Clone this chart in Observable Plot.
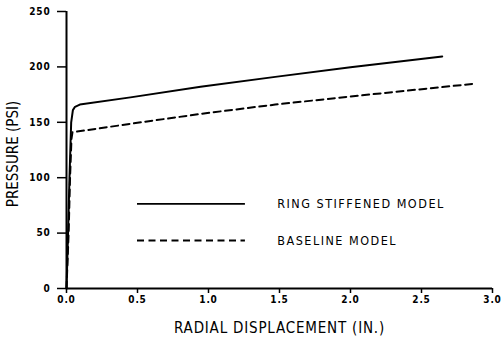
<!DOCTYPE html>
<html>
<head>
<meta charset="utf-8">
<script src="https://cdn.jsdelivr.net/npm/d3@7"></script>
<script src="https://cdn.jsdelivr.net/npm/@observablehq/plot@0.6"></script>
<style>
  body { margin: 0; background: white; }
</style>
</head>
<body>
<div id="chart"></div>
<script>
// Ring stiffened model (solid)
const ringDisp = [0, 0.012, 0.021, 0.033, 0.045, 0.06, 0.094, 0.45, 0.944, 1.47, 2.0, 2.646];
const ringPress = [0, 55, 100, 150, 161, 164, 166, 172.5, 182, 191, 199.7, 209.4];
// Baseline model (dashed)
const baseDisp = [0, 0.015, 0.025, 0.035, 0.042, 0.146, 0.45, 0.944, 1.47, 2.0, 2.864];
const basePress = [0, 50, 100, 135, 141, 143, 148.6, 157.6, 166, 173.3, 184.7];

const xTicks = [0, 0.5, 1.0, 1.5, 2.0, 2.5, 3.0];
const yTicks = [0, 50, 100, 150, 200, 250];

const xTitle = "RADIAL DISPLACEMENT (IN.)";
const yTitle = "PRESSURE (PSI)";
const seriesNames = ["RING STIFFENED MODEL", "BASELINE MODEL"];

const ring = ringDisp.map((d, i) => ({x: d, y: ringPress[i]}));
const base = baseDisp.map((d, i) => ({x: d, y: basePress[i]}));

// legend placement (in data units)
const legX1 = 0.5, legX2 = 1.26, legTextX = 1.484;
const legY = [76.4, 43.3];

const font = "'DejaVu Sans Condensed', 'DejaVu Sans', sans-serif";

const chart = Plot.plot({
  width: 503,
  height: 341,
  marginLeft: 66,
  marginRight: 11,
  marginTop: 11,
  marginBottom: 53,
  x: {domain: [0, 3]},
  y: {domain: [0, 250]},
  style: {fontFamily: font, background: "white", color: "black"},
  marks: [
    Plot.axisX({ticks: xTicks, tickFormat: d => d.toFixed(1), tickSize: 5, tickPadding: 2, fontSize: 10, fontWeight: "bold", label: null, strokeWidth: 1.5}),
    Plot.axisY({ticks: yTicks, tickFormat: d => String(d), tickSize: 9, tickPadding: 7, fontSize: 10, fontWeight: "bold", label: null, strokeWidth: 1.5}),
    Plot.ruleX([0], {stroke: "black", strokeWidth: 2}),
    Plot.ruleY([0], {stroke: "black", strokeWidth: 2}),
    Plot.line(ring, {x: "x", y: "y", stroke: "black", strokeWidth: 2}),
    Plot.line(base, {x: "x", y: "y", stroke: "black", strokeWidth: 2, strokeDasharray: "7,4.5"}),
    Plot.ruleY([legY[0]], {x1: legX1, x2: legX2, stroke: "black", strokeWidth: 1.8}),
    Plot.ruleY([legY[1]], {x1: legX1, x2: legX2, stroke: "black", strokeWidth: 1.8, strokeDasharray: "7,4.5"}),
    Plot.text(seriesNames.map((s, i) => ({s, y: legY[i]})), {x: () => legTextX, y: "y", text: "s", textAnchor: "start", fontSize: 12.5, fill: "black"}),
    Plot.text([xTitle], {frameAnchor: "bottom", lineAnchor: "middle", dy: 40, fontSize: 15, fill: "black"}),
    Plot.text([yTitle], {frameAnchor: "left", textAnchor: "middle", lineAnchor: "middle", rotate: -90, dx: -53, dy: 4, fontSize: 15, fill: "black"})
  ]
});
document.getElementById("chart").appendChild(chart);

// letter spacing per text role
d3.select(chart).selectAll("text").each(function() {
  const t = this.textContent;
  if (seriesNames.includes(t)) this.style.letterSpacing = "1.5px";
  else if (t === xTitle) this.style.letterSpacing = "0.8px";
  else if (t === yTitle) this.style.letterSpacing = "0px";
  else this.style.letterSpacing = "0.8px";
});
</script>
</body>
</html>
